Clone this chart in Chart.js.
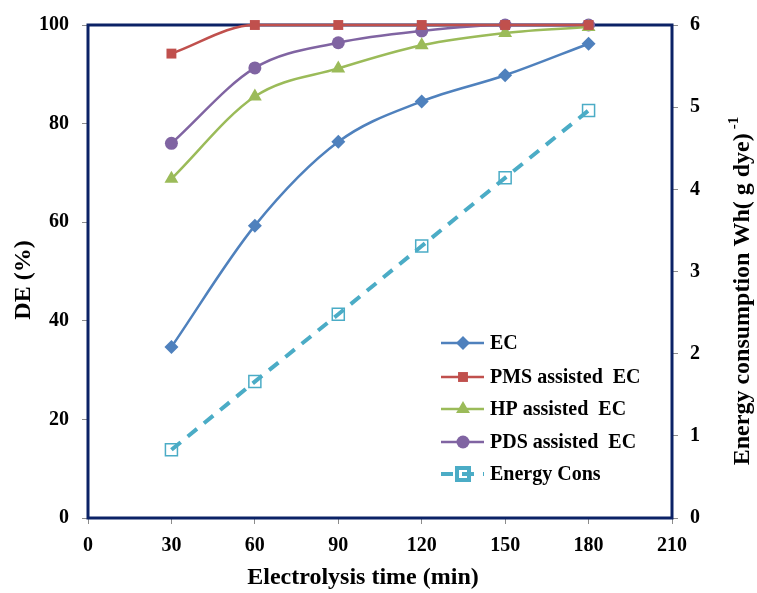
<!DOCTYPE html>
<html>
<head>
<meta charset="utf-8">
<script src="https://cdn.jsdelivr.net/npm/chart.js@4.4.1/dist/chart.umd.min.js"></script>
<style>
  html, body { margin: 0; padding: 0; background: #fff; }
  #wrap { width: 757px; height: 593px; position: relative; }
</style>
</head>
<body>
<div id="wrap"><canvas id="deChart"></canvas></div>
<script>
// -------------------- DATA --------------------
const times = [30, 60, 90, 120, 150, 180];
const deEC = [34.7, 59.3, 76.3, 84.5, 89.8, 96.2];
const dePMS = [94.2, 100, 100, 100, 100, 100];
const deHP = [68.8, 85.5, 91.2, 95.9, 98.4, 99.6];
const dePDS = [76.0, 91.3, 96.4, 98.8, 100, 100];
const energyCons = [0.83, 1.66, 2.48, 3.31, 4.14, 4.96];

const xTicks = [0, 30, 60, 90, 120, 150, 180, 210];
const labelNames = ["EC", "PMS assisted  EC", "HP assisted  EC", "PDS assisted  EC", "Energy Cons"];

const serif = "'Liberation Serif', 'Times New Roman', serif";
const navy = "#0b2266";

function pts(vals) {
  return times.map((t, i) => ({ x: t, y: vals[i] }));
}

// -------------------- PLUGINS --------------------
// khung quanh vùng vẽ (vẽ trước các đường)
const framePlugin = {
  id: "frame",
  beforeDatasetsDraw(chart) {
    const { ctx, chartArea: a } = chart;
    ctx.save();
    ctx.strokeStyle = navy;
    ctx.lineWidth = 3;
    ctx.strokeRect(a.left, a.top, a.right - a.left, a.bottom - a.top);
    ctx.restore();
  }
};

// legend + tiêu đề trục
const overlayPlugin = {
  id: "overlay",
  afterDraw(chart) {
    const ctx = chart.ctx;
    ctx.save();
    ctx.fillStyle = "#000";

    // legend
    const rows = [343, 377, 409, 442, 474];
    chart.data.datasets.forEach((ds, i) => {
      const y = rows[i];
      ctx.strokeStyle = ds.borderColor;
      ctx.lineWidth = ds.borderWidth;
      ctx.setLineDash(ds.borderDash || []);
      ctx.beginPath();
      ctx.moveTo(441, y);
      ctx.lineTo(484, y);
      ctx.stroke();
      ctx.setLineDash([]);
      ctx.fillStyle = ds.pointBackgroundColor;
      ctx.strokeStyle = ds.pointBorderColor;
      Chart.helpers.drawPoint(ctx, {
        pointStyle: ds.pointStyle,
        radius: ds.pointRadius,
        rotation: 0,
        borderWidth: ds.pointBorderWidth
      }, 463, y);
      ctx.fillStyle = "#000";
      ctx.font = "bold 20px " + serif;
      ctx.textAlign = "left";
      ctx.textBaseline = "middle";
      ctx.fillText(ds.label, 490, y + 1);
    });

    // tiêu đề trục x
    ctx.font = "bold 24px " + serif;
    ctx.textAlign = "center";
    ctx.textBaseline = "middle";
    ctx.fillText("Electrolysis time (min)", 363, 578);

    // tiêu đề trục y trái
    ctx.save();
    ctx.translate(24, 280);
    ctx.rotate(-Math.PI / 2);
    ctx.fillText("DE (%)", 0, 0);
    ctx.restore();

    // tiêu đề trục y phải, có chỉ số trên
    ctx.save();
    ctx.translate(743, 291);
    ctx.rotate(-Math.PI / 2);
    const main = "Energy consumption Wh( g dye)";
    const sup = "-1";
    ctx.font = "bold 24px " + serif;
    const w = ctx.measureText(main).width;
    ctx.font = "bold 15px " + serif;
    const ws = ctx.measureText(sup).width;
    const start = -(w + ws + 4) / 2;
    ctx.textAlign = "left";
    ctx.font = "bold 24px " + serif;
    ctx.fillText(main, start, 0);
    ctx.font = "bold 15px " + serif;
    ctx.fillText(sup, start + w + 4, -9);
    ctx.restore();

    ctx.restore();
  }
};

// -------------------- CHART --------------------
const tickFont = { family: serif, size: 20, weight: "bold" };
const tickGrid = { drawOnChartArea: false, drawTicks: true, tickLength: 6, color: "#8c8c8c" };

const ctx = document.getElementById("deChart").getContext("2d");
new Chart(ctx, {
  type: "line",
  data: {
    datasets: [
      {
        label: labelNames[0], data: pts(deEC), yAxisID: "y",
        borderColor: "#4f81bd", borderWidth: 2.5,
        pointStyle: "rectRot", pointRadius: 7,
        pointBackgroundColor: "#4f81bd", pointBorderColor: "#4f81bd", pointBorderWidth: 0,
        cubicInterpolationMode: "monotone", clip: false
      },
      {
        label: labelNames[1], data: pts(dePMS), yAxisID: "y",
        borderColor: "#c0504d", borderWidth: 2.5,
        pointStyle: "rect", pointRadius: 7,
        pointBackgroundColor: "#c0504d", pointBorderColor: "#c0504d", pointBorderWidth: 0,
        cubicInterpolationMode: "monotone", clip: false
      },
      {
        label: labelNames[2], data: pts(deHP), yAxisID: "y",
        borderColor: "#9bbb59", borderWidth: 2.5,
        pointStyle: "triangle", pointRadius: 8,
        pointBackgroundColor: "#9bbb59", pointBorderColor: "#9bbb59", pointBorderWidth: 0,
        cubicInterpolationMode: "monotone", clip: false
      },
      {
        label: labelNames[3], data: pts(dePDS), yAxisID: "y",
        borderColor: "#8064a2", borderWidth: 2.5,
        pointStyle: "circle", pointRadius: 6.5,
        pointBackgroundColor: "#8064a2", pointBorderColor: "#8064a2", pointBorderWidth: 0,
        cubicInterpolationMode: "monotone", clip: false
      },
      {
        label: labelNames[4], data: pts(energyCons), yAxisID: "y1",
        borderColor: "#4bacc6", borderWidth: 4, borderDash: [12, 9],
        pointStyle: "rect", pointRadius: 8.5,
        pointBackgroundColor: "rgba(255,255,255,0)", pointBorderColor: "#4bacc6", pointBorderWidth: 1.5,
        tension: 0, clip: false
      }
    ]
  },
  options: {
    responsive: true,
    maintainAspectRatio: false,
    animation: false,
    layout: { padding: { top: 23, left: 0, right: 0, bottom: 0 } },
    plugins: {
      legend: { display: false },
      tooltip: { enabled: false }
    },
    scales: {
      x: {
        type: "linear", min: 0, max: 210,
        afterBuildTicks: s => { s.ticks = xTicks.map(v => ({ value: v })); },
        afterFit: s => { s.height = 75; },
        ticks: { font: tickFont, color: "#000", padding: 10, maxRotation: 0 },
        grid: tickGrid,
        border: { display: false }
      },
      y: {
        position: "left", min: 0, max: 100,
        afterFit: s => { s.width = 88; },
        ticks: { stepSize: 20, font: tickFont, color: "#000", padding: 13 },
        grid: tickGrid,
        border: { display: false }
      },
      y1: {
        position: "right", min: 0, max: 6,
        afterFit: s => { s.width = 85; },
        ticks: { stepSize: 1, font: tickFont, color: "#000", padding: 12 },
        grid: tickGrid,
        border: { display: false }
      }
    }
  },
  plugins: [framePlugin, overlayPlugin]
});
</script>
</body>
</html>
